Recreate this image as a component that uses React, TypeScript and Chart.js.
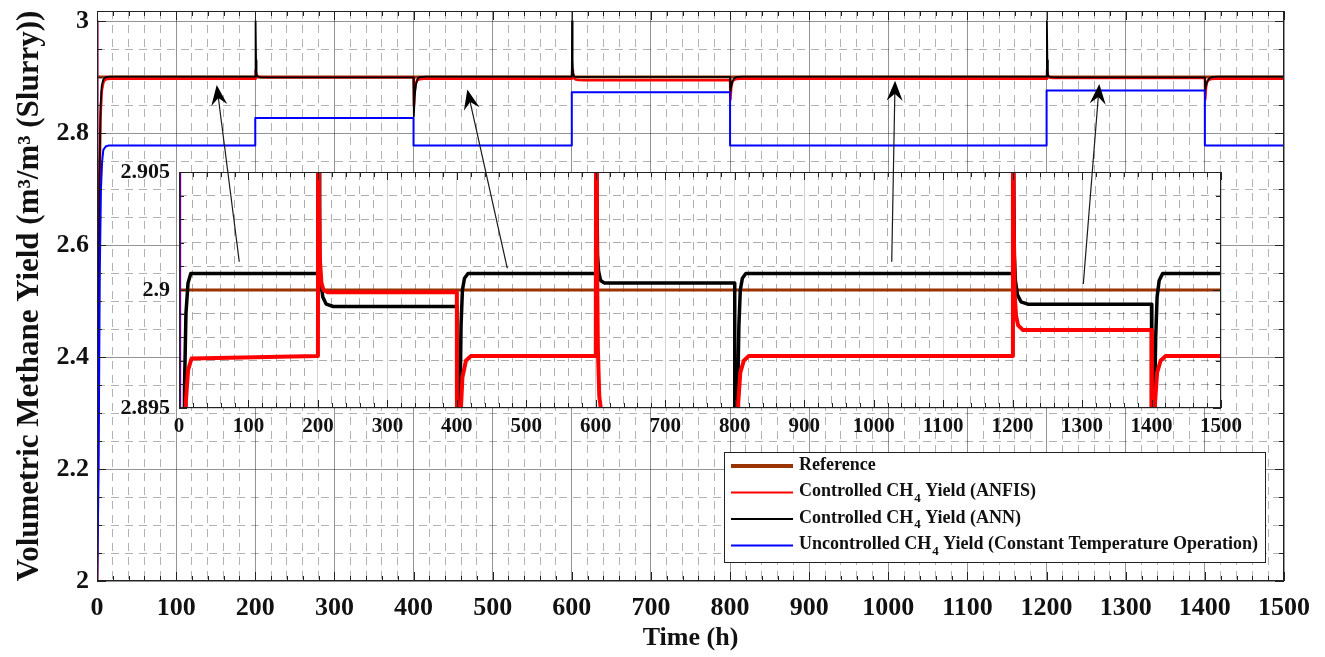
import React, { useEffect, useRef } from 'react';
import { Chart, registerables } from 'chart.js';

Chart.register(...registerables);

const W = 1325;
const H = 657;
const FONT = "'Liberation Serif', 'Times New Roman', serif";

// ---------- series (time in h, yield in m3/m3) ----------
const seriesLabels = [
  'Reference',
  'Controlled CH₄ Yield (ANFIS)',
  'Controlled CH₄ Yield (ANN)',
  'Uncontrolled CH₄ Yield (Constant Temperature Operation)',
];
const seriesColors = ['#993300', '#ff0000', '#000000', '#0000ff'];
// drawing weight: higher is drawn first (underneath)
const seriesOrder = [4, 2, 3, 1];

const refT = [0, 1500];
const refY = [2.9, 2.9];

const anfisT = [
  0, 0.3, 1.5, 3, 4.5, 6, 8, 10, 13, 18,
  200, 200.5, 201.5, 203, 205, 208, 214,
  400, 400.5, 401.5, 403, 405, 408, 413, 420,
  600, 600.5, 601.5, 603, 605, 608, 615,
  800, 800.5, 801.5, 803, 805, 808, 813, 820,
  1200, 1200.5, 1201.5, 1203, 1205, 1208, 1215,
  1400, 1400.5, 1401.5, 1403, 1405, 1408, 1413, 1420, 1500,
];
const anfisY = [
  3.0, 2.0, 2.3, 2.68, 2.83, 2.875, 2.89, 2.8953, 2.8966, 2.8971,
  2.8972, 2.912, 2.904, 2.9012, 2.9003, 2.9, 2.8999,
  2.8999, 2.85, 2.876, 2.889, 2.8945, 2.8963, 2.897, 2.8972,
  2.8972, 2.912, 2.902, 2.8975, 2.8955, 2.8948, 2.8945,
  2.8945, 2.86, 2.882, 2.8915, 2.8952, 2.8965, 2.897, 2.8972,
  2.8972, 2.912, 2.903, 2.8998, 2.8989, 2.8985, 2.8983,
  2.8983, 2.86, 2.882, 2.8915, 2.8952, 2.8965, 2.897, 2.8972, 2.8972,
];

const annT = [
  0, 1.5, 3, 4.5, 6, 8, 10, 13, 17,
  200, 200.4, 201, 201.6, 202.5, 204, 207, 212, 222,
  400, 400.4, 401.5, 403, 404.5, 406, 408, 411, 416,
  600, 600.4, 601, 601.6, 602.5, 604, 607, 612,
  800, 800.4, 801.5, 803, 804.5, 806, 808, 811, 816,
  1200, 1200.4, 1201, 1201.6, 1202.5, 1204, 1207, 1212, 1222,
  1400, 1400.4, 1401.5, 1403, 1404.5, 1406, 1408, 1411, 1416, 1500,
];
const annY = [
  2.0, 2.3, 2.7, 2.85, 2.885, 2.896, 2.899, 2.9003, 2.9007,
  2.9007, 3.0, 2.93, 2.905, 2.9015, 2.9004, 2.8997, 2.8994, 2.8993,
  2.8993, 2.83, 2.866, 2.886, 2.895, 2.8985, 2.9, 2.9005, 2.9007,
  2.9007, 3.0, 2.93, 2.905, 2.9015, 2.9008, 2.9004, 2.9003,
  2.9003, 2.873, 2.884, 2.892, 2.896, 2.8985, 2.9, 2.9005, 2.9007,
  2.9007, 3.0, 2.93, 2.905, 2.9015, 2.9004, 2.8998, 2.8995, 2.8994,
  2.8994, 2.877, 2.886, 2.892, 2.8955, 2.898, 2.8997, 2.9004, 2.9007, 2.9007,
];

const uncT = [
  0, 0.3, 2, 3.5, 5, 6.5, 8, 11, 15,
  200, 200, 400, 400, 600, 600, 800, 800, 1200, 1200, 1400, 1400, 1500,
];
const uncY = [
  3.0, 2.0, 2.2, 2.55, 2.7, 2.75, 2.77, 2.776, 2.778,
  2.778, 2.827, 2.827, 2.778, 2.778, 2.873, 2.873, 2.778, 2.778, 2.876, 2.876, 2.778, 2.778,
];

// ---------- axes ----------
const xMajorTicks = [0, 100, 200, 300, 400, 500, 600, 700, 800, 900, 1000, 1100, 1200, 1300, 1400, 1500];
const xTickLabels = xMajorTicks.map(String);
const xMinorStep = 20;

const mainYMajorTicks = [2, 2.2, 2.4, 2.6, 2.8, 3];
const mainYTickLabels = ['2', '2.2', '2.4', '2.6', '2.8', '3'];
const mainYMinorStep = 0.05;
const mainYRange = [2, 3.018];

const insetYMajorTicks = [2.895, 2.9, 2.905];
const insetYTickLabels = ['2.895', '2.9', '2.905'];
const insetYMinorStep = 0.001;
const insetYRange = [2.895, 2.905];

// annotation arrows (main-chart data coordinates): tail -> head
const arrowTails = [[179.8, 2.5702], [518.5, 2.5584], [1004.3, 2.5702], [1246.4, 2.5304]];
const arrowHeads = [[151.3, 2.8857], [468.0, 2.878], [1008.5, 2.8934], [1266.6, 2.8875]];

// ---------- helpers ----------
const pts = (t: number[], y: number[]) => t.map((x, i) => ({ x, y: y[i] }));
function stepTicks(min: number, max: number, step: number) {
  const out: number[] = [];
  const n = Math.round((max - min) / step);
  for (let i = 0; i <= n; i++) out.push(+(min + i * step).toFixed(6));
  return out;
}
const idxIn = (v: number, arr: number[]) => arr.findIndex((a) => Math.abs(a - v) < 1e-7);
const isIn = (v: number, arr: number[]) => idxIn(v, arr) >= 0;

function buildDatasets(widths: number[], order: number[]) {
  const ts = [refT, anfisT, annT, uncT];
  const ys = [refY, anfisY, annY, uncY];
  return seriesLabels.map((label, i) => ({
    label,
    data: pts(ts[i], ys[i]),
    borderColor: seriesColors[i],
    backgroundColor: seriesColors[i],
    borderWidth: widths[i],
    pointRadius: 0,
    tension: 0,
    fill: false,
    borderJoinStyle: 'round' as const,
    order: order[i],
  }));
}

interface AxisOpts {
  xMajor: number[];
  xLabels: string[];
  xTicks: number[];
  yMajor: number[];
  yLabels: string[];
  yTicks: number[];
  yRange: number[];
  xAxisHeight: number;
  yAxisWidth: number;
  xTickSize: number;
  yTickSize: number;
  xTickPad: number;
  yTickPad: number;
  majorGridX: string;
  majorGridY: string;
  minorGrid: string;
  dash: number[];
  xTitle?: any;
  yTitle?: any;
}

function makeScales(o: AxisOpts) {
  return {
    x: {
      type: 'linear',
      min: 0,
      max: 1500,
      afterBuildTicks: (s: any) => {
        s.ticks = o.xTicks.map((v) => ({ value: v }));
      },
      afterFit: (s: any) => {
        s.height = o.xAxisHeight;
        s.paddingLeft = 0;
        s.paddingRight = 0;
      },
      ticks: {
        autoSkip: false,
        maxRotation: 0,
        minRotation: 0,
        padding: o.xTickPad,
        color: '#111',
        font: { family: FONT, size: o.xTickSize, weight: 'bold' },
        callback: (v: number) => {
          const k = idxIn(v, o.xMajor);
          return k >= 0 ? o.xLabels[k] : '';
        },
      },
      grid: {
        drawTicks: false,
        lineWidth: 1,
        color: (c: any) => (c.tick && isIn(c.tick.value, o.xMajor) ? o.majorGridX : o.minorGrid),
      },
      border: {
        display: false,
        dash: (c: any) => (c.tick && !isIn(c.tick.value, o.xMajor) ? o.dash : []),
      },
      title: o.xTitle || { display: false },
    },
    y: {
      type: 'linear',
      position: 'left',
      min: o.yRange[0],
      max: o.yRange[1],
      afterBuildTicks: (s: any) => {
        s.ticks = o.yTicks.map((v) => ({ value: v }));
      },
      afterFit: (s: any) => {
        s.width = o.yAxisWidth;
        s.paddingTop = 0;
        s.paddingBottom = 0;
      },
      ticks: {
        autoSkip: false,
        padding: o.yTickPad,
        color: '#111',
        font: { family: FONT, size: o.yTickSize, weight: 'bold' },
        callback: (v: number) => {
          const k = idxIn(v, o.yMajor);
          return k >= 0 ? o.yLabels[k] : '';
        },
      },
      grid: {
        drawTicks: false,
        lineWidth: 1,
        color: (c: any) => (c.tick && isIn(c.tick.value, o.yMajor) ? o.majorGridY : o.minorGrid),
      },
      border: {
        display: false,
        dash: (c: any) => (c.tick && !isIn(c.tick.value, o.yMajor) ? o.dash : []),
      },
      title: o.yTitle || { display: false },
    },
  };
}

// white background + inner tick marks + box (MATLAB style)
const framePlugin = {
  id: 'frame',
  beforeDraw(chart: any, _a: any, o: any) {
    const { ctx, chartArea: a } = chart;
    ctx.save();
    ctx.fillStyle = '#ffffff';
    if (o.fillAll) ctx.fillRect(0, 0, chart.width, chart.height);
    else ctx.fillRect(a.left, a.top, a.right - a.left, a.bottom - a.top);
    ctx.restore();
  },
  afterDatasetsDraw(chart: any, _a: any, o: any) {
    const { ctx, chartArea: a, scales } = chart;
    const xs = scales.x;
    const ys = scales.y;
    ctx.save();
    ctx.strokeStyle = o.color;
    ctx.lineWidth = 1;
    ctx.beginPath();
    for (const t of xs.ticks) {
      const px = Math.round(xs.getPixelForValue(t.value)) + 0.5;
      const L = isIn(t.value, o.xMajor) ? o.major : o.minor;
      ctx.moveTo(px, a.bottom);
      ctx.lineTo(px, a.bottom - L);
      ctx.moveTo(px, a.top);
      ctx.lineTo(px, a.top + L);
    }
    for (const t of ys.ticks) {
      const py = Math.round(ys.getPixelForValue(t.value)) + 0.5;
      const L = isIn(t.value, o.yMajor) ? o.major : o.minor;
      ctx.moveTo(a.left, py);
      ctx.lineTo(a.left + L, py);
      ctx.moveTo(a.right, py);
      ctx.lineTo(a.right - L, py);
    }
    ctx.stroke();
    ctx.strokeRect(
      Math.round(a.left) + 0.5,
      Math.round(a.top) + 0.5,
      Math.round(a.right - a.left) - 1,
      Math.round(a.bottom - a.top) - 1
    );
    ctx.restore();
  },
};

// text with subscript ₄ drawn as a lowered small 4
function richWidth(ctx: CanvasRenderingContext2D, text: string, size: number) {
  let w = 0;
  for (const part of text.split(/(₄)/)) {
    if (!part) continue;
    if (part === '₄') {
      ctx.font = `bold ${Math.round(size * 0.72)}px ${FONT}`;
      w += ctx.measureText('4').width;
    } else {
      ctx.font = `bold ${size}px ${FONT}`;
      w += ctx.measureText(part).width;
    }
  }
  return w;
}
function drawRich(ctx: CanvasRenderingContext2D, text: string, x: number, y: number, size: number) {
  let cx = x;
  for (const part of text.split(/(₄)/)) {
    if (!part) continue;
    if (part === '₄') {
      ctx.font = `bold ${Math.round(size * 0.72)}px ${FONT}`;
      ctx.fillText('4', cx + 1, y + size * 0.38);
      cx += ctx.measureText('4').width + 1;
    } else {
      ctx.font = `bold ${size}px ${FONT}`;
      ctx.fillText(part, cx, y);
      cx += ctx.measureText(part).width;
    }
  }
}

const legendBoxPlugin = {
  id: 'legendBox',
  afterDraw(chart: any, _a: any, o: any) {
    const { ctx, chartArea: a } = chart;
    const ds = chart.data.datasets;
    ctx.save();
    let maxW = 0;
    for (const d of ds) maxW = Math.max(maxW, richWidth(ctx, d.label, o.fontSize));
    const boxW = o.padL + o.sample + o.gap + maxW + o.padR;
    const right = a.right - o.marginRight;
    const bottom = a.bottom - o.marginBottom;
    const left = right - boxW;
    const top = bottom - o.height;
    ctx.fillStyle = '#fff';
    ctx.fillRect(left, top, boxW, o.height);
    ctx.strokeStyle = '#222';
    ctx.lineWidth = 1;
    ctx.strokeRect(Math.round(left) + 0.5, Math.round(top) + 0.5, Math.round(boxW), Math.round(o.height));
    ds.forEach((d: any, i: number) => {
      const cy = top + o.firstRow + i * o.rowStep;
      ctx.strokeStyle = d.borderColor;
      ctx.lineWidth = o.sampleWidths[i];
      ctx.beginPath();
      ctx.moveTo(left + o.padL, cy);
      ctx.lineTo(left + o.padL + o.sample, cy);
      ctx.stroke();
      ctx.fillStyle = '#111';
      ctx.textBaseline = 'middle';
      ctx.textAlign = 'left';
      drawRich(ctx, d.label, left + o.padL + o.sample + o.gap, cy - 1, o.fontSize);
    });
    ctx.restore();
  },
};

function drawArrow(ctx: CanvasRenderingContext2D, x0: number, y0: number, x1: number, y1: number) {
  const ang = Math.atan2(y1 - y0, x1 - x0);
  const c = Math.cos(ang);
  const s = Math.sin(ang);
  const L = 20;
  const hw = 8;
  const notch = 13;
  const nx = x1 - notch * c;
  const ny = y1 - notch * s;
  ctx.beginPath();
  ctx.moveTo(x0, y0);
  ctx.lineTo(nx, ny);
  ctx.stroke();
  const bx = x1 - L * c;
  const by = y1 - L * s;
  ctx.beginPath();
  ctx.moveTo(x1, y1);
  ctx.lineTo(bx - s * hw, by + c * hw);
  ctx.lineTo(nx, ny);
  ctx.lineTo(bx + s * hw, by - c * hw);
  ctx.closePath();
  ctx.fill();
}

function makeArrowPlugin(getMain: () => any) {
  return {
    id: 'arrows',
    afterDraw(chart: any) {
      const main = getMain();
      if (!main) return;
      const xs = main.scales.x;
      const ys = main.scales.y;
      const { ctx } = chart;
      ctx.save();
      ctx.strokeStyle = '#1a1a1a';
      ctx.fillStyle = '#000';
      ctx.lineWidth = 1.2;
      arrowTails.forEach((tl, i) => {
        const hd = arrowHeads[i];
        drawArrow(
          ctx,
          xs.getPixelForValue(tl[0]),
          ys.getPixelForValue(tl[1]),
          xs.getPixelForValue(hd[0]),
          ys.getPixelForValue(hd[1])
        );
      });
      ctx.restore();
    },
  };
}

function mainConfig(): any {
  const xTicks = stepTicks(0, 1500, xMinorStep);
  const yTicks = stepTicks(2, 3, mainYMinorStep);
  return {
    type: 'line',
    data: { datasets: buildDatasets([3, 2.5, 1.8, 2], [4, 3, 2, 1]) },
    plugins: [framePlugin, legendBoxPlugin],
    options: {
      animation: false,
      responsive: false,
      devicePixelRatio: 1,
      events: [],
      parsing: false,
      layout: { padding: { left: 0, top: 11, right: 41, bottom: 0 } },
      scales: makeScales({
        xMajor: xMajorTicks,
        xLabels: xTickLabels,
        xTicks,
        yMajor: mainYMajorTicks,
        yLabels: mainYTickLabels,
        yTicks,
        yRange: mainYRange,
        xAxisHeight: 76,
        yAxisWidth: 97,
        xTickSize: 26,
        yTickSize: 26,
        xTickPad: 12,
        yTickPad: 8,
        majorGridX: 'rgba(0,0,0,0.42)',
        majorGridY: 'rgba(0,0,0,0.42)',
        minorGrid: 'rgba(0,0,0,0.30)',
        dash: [8, 6],
        xTitle: {
          display: true,
          text: 'Time (h)',
          color: '#111',
          font: { family: FONT, size: 26, weight: 'bold' },
          padding: { top: 0, bottom: 3 },
        },
        yTitle: {
          display: true,
          text: 'Volumetric Methane Yield (m³/m³ (Slurry))',
          color: '#111',
          font: { family: FONT, size: 31, weight: 'bold' },
          padding: { top: 11, bottom: 0 },
        },
      }),
      plugins: {
        legend: { display: false },
        tooltip: { enabled: false },
        frame: { fillAll: true, color: '#222', major: 9, minor: 5, xMajor: xMajorTicks, yMajor: mainYMajorTicks },
        legendBox: {
          fontSize: 18,
          padL: 7,
          sample: 62,
          gap: 6,
          padR: 8,
          marginRight: 19,
          marginBottom: 19,
          height: 110,
          firstRow: 14,
          rowStep: 26.5,
          sampleWidths: [4, 2, 2, 2],
        },
      },
    },
  };
}

function insetConfig(getMain: () => any): any {
  const xTicks = stepTicks(0, 1500, xMinorStep);
  const yTicks = stepTicks(2.895, 2.905, insetYMinorStep);
  const datasets = buildDatasets([3, 4, 3.5, 3], seriesOrder).map((d) => ({ ...d, clip: 0 }));
  return {
    type: 'line',
    data: { datasets },
    plugins: [framePlugin, makeArrowPlugin(getMain)],
    options: {
      animation: false,
      responsive: false,
      devicePixelRatio: 1,
      events: [],
      parsing: false,
      layout: { padding: { left: 119, top: 172, right: 104, bottom: 209 } },
      scales: makeScales({
        xMajor: xMajorTicks,
        xLabels: xTickLabels,
        xTicks,
        yMajor: insetYMajorTicks,
        yLabels: insetYTickLabels,
        yTicks,
        yRange: insetYRange,
        xAxisHeight: 40,
        yAxisWidth: 60,
        xTickSize: 21,
        yTickSize: 22,
        xTickPad: 6,
        yTickPad: 9,
        majorGridX: 'rgba(0,0,0,0.18)',
        majorGridY: 'rgba(0,0,0,0.18)',
        minorGrid: 'rgba(0,0,0,0.32)',
        dash: [8, 6],
      }),
      plugins: {
        legend: { display: false },
        tooltip: { enabled: false },
        frame: { fillAll: false, color: '#222', major: 8, minor: 5, xMajor: xMajorTicks, yMajor: insetYMajorTicks },
      },
    },
  };
}

export default function App() {
  const mainRef = useRef<HTMLCanvasElement>(null);
  const insetRef = useRef<HTMLCanvasElement>(null);

  useEffect(() => {
    let main: any = null;
    main = new Chart(mainRef.current as HTMLCanvasElement, mainConfig());
    const inset = new Chart(insetRef.current as HTMLCanvasElement, insetConfig(() => main));
    return () => {
      inset.destroy();
      main.destroy();
    };
  }, []);

  return (
    <div style={{ position: 'fixed', left: 0, top: 0, width: W, height: H, background: '#fff', overflow: 'hidden' }}>
      <canvas ref={mainRef} width={W} height={H} style={{ position: 'absolute', left: 0, top: 0, width: W, height: H }} />
      <canvas
        ref={insetRef}
        width={W}
        height={H}
        style={{ position: 'absolute', left: 0, top: 0, width: W, height: H, pointerEvents: 'none' }}
      />
    </div>
  );
}
